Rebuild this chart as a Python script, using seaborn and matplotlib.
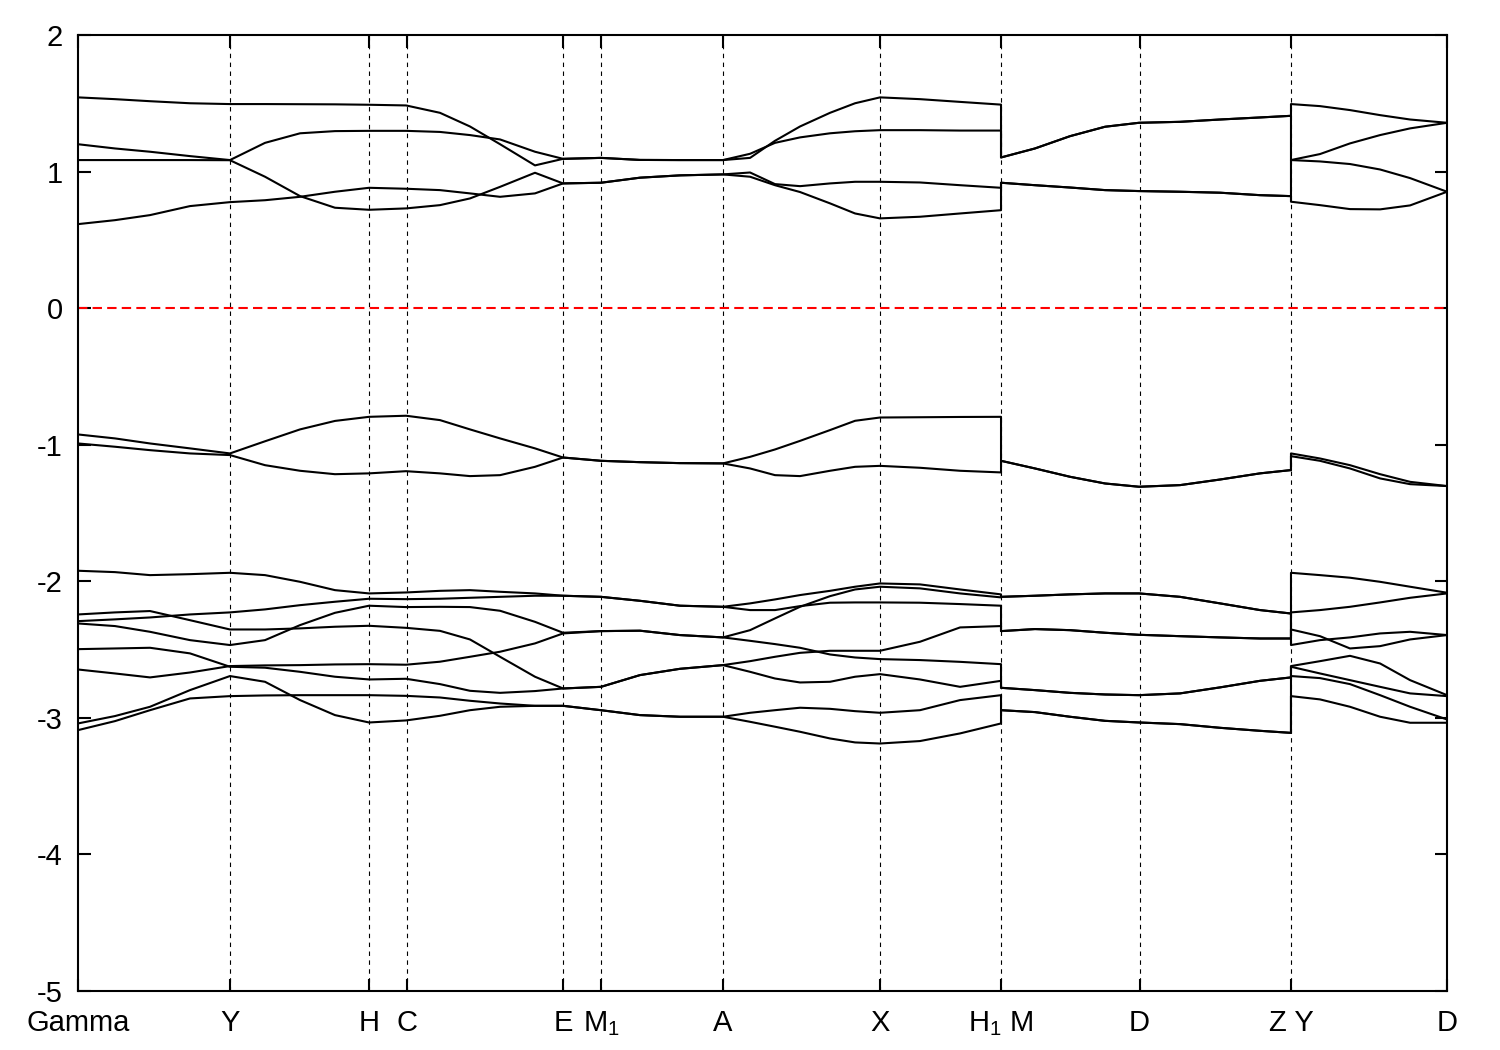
import matplotlib
matplotlib.use("Agg")
import matplotlib.pyplot as plt
import numpy as np
import pandas as pd
import seaborn as sns

# k-path coordinate of every sample (the repeated values are the jumps H1|M and Z|Y)
K_PATH = [0.0000, 0.0270, 0.0526, 0.0818, 0.1110, 0.1366, 0.1622, 0.1877, 0.2126, 0.2396,
          0.2644, 0.2863, 0.3083, 0.3338, 0.3543, 0.3820, 0.4105, 0.4397, 0.4711,
          0.4909, 0.5091, 0.5274, 0.5493, 0.5676, 0.5858, 0.6150, 0.6443, 0.6742,
          0.6742, 0.6990, 0.7246, 0.7502, 0.7750, 0.8050, 0.8342, 0.8634, 0.8860,
          0.8860, 0.9072, 0.9291, 0.9511, 0.9730, 1.0000]

TICK_POS = [0.0, 0.1110, 0.2126, 0.2400, 0.3543, 0.3820, 0.4711, 0.5855, 0.6742, 0.7754, 0.8860, 1.0]
TICK_LABELS = ["Gamma", "Y", "H", "C", "E", "M$_1$", "A", "X", "H$_1$ M", "D", "Z Y", "D"]

# conduction bands
c4 = [1.543, 1.530, 1.515, 1.500, 1.494, 1.494, 1.493, 1.492, 1.489, 1.484,
      1.430, 1.330, 1.200, 1.045, 1.093, 1.100, 1.085, 1.084, 1.084,
      1.100, 1.225, 1.330, 1.430, 1.500, 1.543, 1.530, 1.510, 1.490,
      1.103, 1.169, 1.259, 1.328, 1.357, 1.364, 1.381, 1.396, 1.408,
      1.494, 1.479, 1.450, 1.413, 1.381, 1.357]
c3 = [1.200, 1.169, 1.145, 1.113, 1.084, 1.210, 1.280, 1.296, 1.298, 1.298,
      1.290, 1.267, 1.235, 1.145, 1.093, 1.100, 1.085, 1.084, 1.084,
      1.130, 1.210, 1.250, 1.280, 1.295, 1.303, 1.303, 1.300, 1.300,
      1.103, 1.169, 1.259, 1.328, 1.357, 1.364, 1.381, 1.396, 1.408,
      1.084, 1.128, 1.206, 1.267, 1.316, 1.357]
c2 = [1.084, 1.084, 1.084, 1.084, 1.083, 0.962, 0.820, 0.735, 0.720, 0.730,
      0.754, 0.803, 0.888, 0.991, 0.913, 0.918, 0.955, 0.972, 0.979,
      0.993, 0.908, 0.893, 0.913, 0.925, 0.925, 0.920, 0.900, 0.881,
      0.918, 0.900, 0.883, 0.864, 0.857, 0.852, 0.845, 0.827, 0.820,
      1.084, 1.074, 1.055, 1.015, 0.952, 0.852]
c1 = [0.615, 0.644, 0.681, 0.747, 0.776, 0.790, 0.815, 0.852, 0.881, 0.874,
      0.864, 0.840, 0.815, 0.840, 0.913, 0.918, 0.955, 0.972, 0.979,
      0.962, 0.900, 0.850, 0.767, 0.693, 0.657, 0.669, 0.693, 0.717,
      0.918, 0.900, 0.883, 0.864, 0.857, 0.852, 0.845, 0.827, 0.820,
      0.779, 0.754, 0.725, 0.723, 0.752, 0.852]

# top valence pair
b6 = [-0.925, -0.954, -0.991, -1.027, -1.064, -0.975, -0.888, -0.826, -0.796, -0.788,
      -0.820, -0.888, -0.954, -1.027, -1.094, -1.118, -1.128, -1.135, -1.137,
      -1.089, -1.035, -0.972, -0.893, -0.825, -0.801, -0.799, -0.797, -0.796,
      -1.118, -1.174, -1.235, -1.284, -1.308, -1.296, -1.255, -1.210, -1.186,
      -1.064, -1.101, -1.150, -1.216, -1.272, -1.303]
b5 = [-0.991, -1.015, -1.040, -1.064, -1.076, -1.150, -1.191, -1.216, -1.210, -1.194,
      -1.210, -1.230, -1.223, -1.162, -1.094, -1.118, -1.128, -1.135, -1.137,
      -1.174, -1.223, -1.230, -1.191, -1.162, -1.155, -1.169, -1.191, -1.203,
      -1.118, -1.174, -1.235, -1.284, -1.308, -1.296, -1.255, -1.210, -1.186,
      -1.084, -1.118, -1.174, -1.247, -1.289, -1.303]

# lower valence group
v1 = [-1.923, -1.933, -1.955, -1.948, -1.938, -1.955, -2.004, -2.065, -2.089, -2.082,
      -2.070, -2.065, -2.077, -2.089, -2.106, -2.114, -2.143, -2.179, -2.187,
      -2.162, -2.133, -2.101, -2.070, -2.040, -2.016, -2.023, -2.060, -2.096,
      -2.114, -2.106, -2.096, -2.089, -2.089, -2.114, -2.162, -2.211, -2.236,
      -1.938, -1.955, -1.974, -2.004, -2.040, -2.084]
v2 = [-2.292, -2.279, -2.265, -2.243, -2.228, -2.206, -2.175, -2.150, -2.128, -2.131,
      -2.128, -2.121, -2.114, -2.106, -2.106, -2.114, -2.143, -2.179, -2.187,
      -2.211, -2.211, -2.182, -2.157, -2.155, -2.155, -2.157, -2.167, -2.179,
      -2.365, -2.350, -2.358, -2.377, -2.392, -2.402, -2.411, -2.419, -2.419,
      -2.228, -2.211, -2.187, -2.155, -2.121, -2.089]
v3 = [-2.243, -2.228, -2.218, -2.285, -2.353, -2.353, -2.345, -2.333, -2.326, -2.341,
      -2.363, -2.426, -2.553, -2.699, -2.785, -2.773, -2.687, -2.641, -2.614,
      -2.585, -2.553, -2.524, -2.509, -2.509, -2.509, -2.443, -2.338, -2.328,
      -2.365, -2.350, -2.358, -2.377, -2.392, -2.402, -2.411, -2.419, -2.419,
      -2.353, -2.402, -2.492, -2.475, -2.426, -2.394]
v4 = [-2.309, -2.328, -2.370, -2.431, -2.467, -2.431, -2.321, -2.231, -2.179, -2.189,
      -2.187, -2.189, -2.216, -2.297, -2.377, -2.365, -2.362, -2.394, -2.411,
      -2.358, -2.272, -2.187, -2.109, -2.060, -2.040, -2.052, -2.089, -2.118,
      -2.114, -2.106, -2.096, -2.089, -2.089, -2.114, -2.162, -2.211, -2.236,
      -2.467, -2.431, -2.411, -2.382, -2.370, -2.394]
v5 = [-2.497, -2.492, -2.487, -2.528, -2.626, -2.633, -2.663, -2.699, -2.719, -2.714,
      -2.753, -2.802, -2.817, -2.804, -2.785, -2.773, -2.687, -2.641, -2.614,
      -2.663, -2.712, -2.741, -2.736, -2.699, -2.680, -2.719, -2.773, -2.729,
      -2.780, -2.797, -2.817, -2.829, -2.834, -2.821, -2.777, -2.729, -2.704,
      -2.626, -2.675, -2.724, -2.773, -2.821, -2.841]
v6 = [-2.646, -2.675, -2.704, -2.668, -2.621, -2.616, -2.614, -2.609, -2.607, -2.611,
      -2.589, -2.553, -2.516, -2.455, -2.382, -2.365, -2.362, -2.394, -2.411,
      -2.436, -2.460, -2.487, -2.536, -2.558, -2.570, -2.577, -2.590, -2.607,
      -2.780, -2.797, -2.817, -2.829, -2.834, -2.821, -2.777, -2.729, -2.704,
      -2.621, -2.585, -2.546, -2.602, -2.724, -2.834]
v7 = [-3.041, -2.987, -2.919, -2.797, -2.694, -2.736, -2.870, -2.980, -3.034, -3.019,
      -2.985, -2.944, -2.919, -2.912, -2.912, -2.944, -2.980, -2.992, -2.992,
      -2.963, -2.944, -2.926, -2.934, -2.951, -2.963, -2.944, -2.870, -2.834,
      -2.944, -2.958, -2.992, -3.022, -3.034, -3.046, -3.073, -3.095, -3.110,
      -2.694, -2.709, -2.753, -2.834, -2.919, -3.012]
v8 = [-3.090, -3.024, -2.944, -2.858, -2.841, -2.836, -2.834, -2.834, -2.834, -2.839,
      -2.851, -2.875, -2.895, -2.912, -2.912, -2.944, -2.980, -2.992, -2.992,
      -3.029, -3.065, -3.102, -3.151, -3.180, -3.188, -3.170, -3.114, -3.041,
      -2.944, -2.958, -2.992, -3.022, -3.034, -3.046, -3.073, -3.095, -3.110,
      -2.841, -2.865, -2.919, -2.992, -3.036, -3.036]

BANDS = {"c1": c1, "c2": c2, "c3": c3, "c4": c4, "b5": b5, "b6": b6,
         "v1": v1, "v2": v2, "v3": v3, "v4": v4, "v5": v5, "v6": v6, "v7": v7, "v8": v8}


def main():
    sns.set_style("ticks")
    plt.rcParams["font.family"] = ["Liberation Sans", "DejaVu Sans"]
    plt.rcParams["mathtext.fontset"] = "custom"
    plt.rcParams["mathtext.rm"] = "Liberation Sans"
    plt.rcParams["mathtext.it"] = "Liberation Sans"
    plt.rcParams["axes.unicode_minus"] = False

    # long-form table, order kept so the jumps draw as vertical segments
    frames = []
    for name, energies in BANDS.items():
        frames.append(pd.DataFrame({"k": K_PATH, "energy": energies, "band": name}))
    df = pd.concat(frames, ignore_index=True)

    fig, ax = plt.subplots(figsize=(15, 10.5), dpi=100)
    fig.subplots_adjust(left=0.052, right=0.9647, top=0.9667, bottom=0.0562)

    # high-symmetry lines and Fermi level
    for pos in TICK_POS[1:-1]:
        ax.axvline(pos, color="black", lw=0.8, ls=(0, (4, 4)), zorder=1)
    ax.axhline(0, color="red", lw=1.5, ls=(0, (4.5, 2.5)), zorder=1)

    sns.lineplot(data=df, x="k", y="energy", units="band", estimator=None,
                 sort=False, color="black", lw=1.5, legend=False, ax=ax, zorder=2)

    ax.set_xlim(0, 1)
    ax.set_ylim(-5, 2)
    ax.set_yticks(np.arange(-5, 3))
    ax.set_xticks(TICK_POS)
    ax.set_xticklabels(TICK_LABELS)
    ax.set_xlabel("")
    ax.set_ylabel("")

    ax.tick_params(axis="both", direction="in", length=9, width=1.5,
                   labelsize=21, top=True, right=True, colors="black",
                   labelcolor="black")
    ax.tick_params(axis="x", pad=13)
    ax.tick_params(axis="y", pad=11)
    for spine in ax.spines.values():
        spine.set_linewidth(1.5)
        spine.set_color("black")

    fig.savefig("out.png", dpi=100)


if __name__ == "__main__":
    main()
